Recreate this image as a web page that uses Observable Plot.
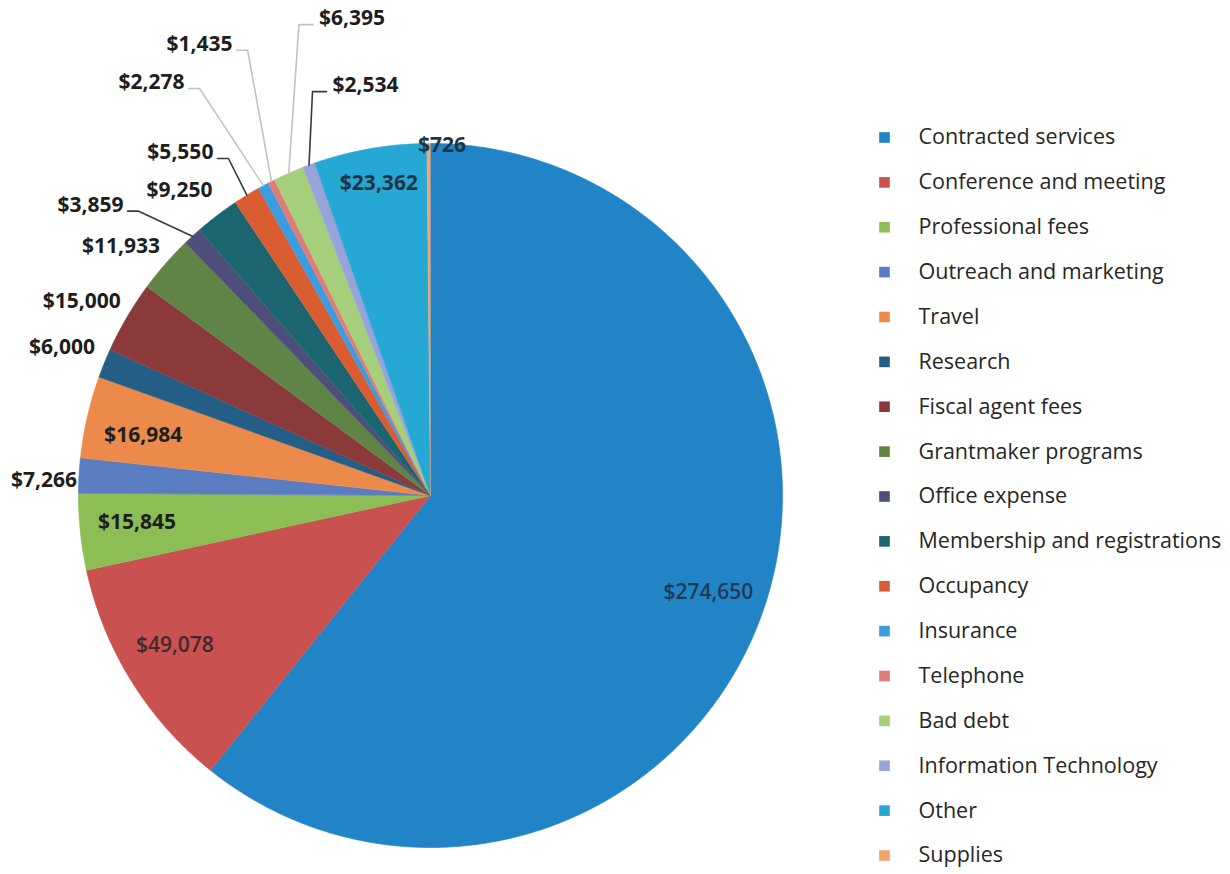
<!DOCTYPE html>
<html>
<head>
<meta charset="utf-8">
<script src="https://cdn.jsdelivr.net/npm/d3@7"></script>
<script src="https://cdn.jsdelivr.net/npm/@observablehq/plot@0.6"></script>
<style>
  html, body { margin: 0; padding: 0; background: #fff; }
  #wrap { position: relative; width: 1230px; height: 874px; overflow: hidden; font-family: "Open Sans", sans-serif; }
  #pie { position: absolute; left: 0; top: 0; }
  #legend { position: absolute; left: 860px; top: 0; }
</style>
</head>
<body>
<div id="wrap"><div id="pie"></div><div id="legend"></div></div>
<script>
// ---- data ----
const categories = [
  "Contracted services", "Conference and meeting", "Professional fees", "Outreach and marketing",
  "Travel", "Research", "Fiscal agent fees", "Grantmaker programs", "Office expense",
  "Membership and registrations", "Occupancy", "Insurance", "Telephone", "Bad debt",
  "Information Technology", "Other", "Supplies"
];
const values = [274650, 49078, 15845, 7266, 16984, 6000, 15000, 11933, 3859, 9250, 5550, 2278, 1435, 6395, 2534, 23362, 726];
const colors = [
  "#2184c6", "#c9514f", "#8dbd55", "#5a7cc0", "#ec8a4c", "#245d85", "#8a3a3b", "#5f8446", "#4d4e7a",
  "#1b6571", "#d95d31", "#3b9de0", "#e27c77", "#a6cf7b", "#98a3db", "#25a8d3", "#f0a46f"
];

// ---- label layout (polar: angle clockwise from top in degrees, radius as fraction of pie radius) ----
const labelAngle  = [109.2, 239.6, 264.8, 272.2, 281.8, 291.9, 299.1, 308.8, 310.5, 320.55, 323.9, 325.96, 332.9, 350.65, 351.0, 350.6, 1.88];
const labelRadius = [0.836, 0.842, 0.837, 1.099, 0.834, 1.128, 1.134, 1.128, 1.27, 1.122, 1.206, 1.416, 1.44, 1.373, 1.179, 0.898, 0.995];
const labelStyle  = ["soft", "soft", "bold", "bold", "bold", "bold", "bold", "bold", "bold", "bold", "bold", "bold", "bold", "bold", "bold", "dark", "dark"];
const leaderSide  = [null, null, null, null, null, null, null, null, "right", null, "right", "right", "right", "left", "left", null, null];
const leaderTone  = [null, null, null, null, null, null, null, null, "dark", null, "dark", "light", "light", "light", "dark", null, null];

// ---- geometry ----
const W = 860, H = 874, cx = 430, cy = 495, R = 352, LABEL_SIZE = 21;
const fmt = d3.format("$,");
const rows = categories.map((c, i) => ({category: c, value: values[i], i}));
const arcs = d3.pie().sort(null).value(d => d.value)(rows);

// slice polygons (unit coordinates, angle clockwise from top)
const slicePts = [];
for (const a of arcs) {
  const key = a.data.category;
  slicePts.push({key, u: 0, v: 0});
  const n = Math.max(2, Math.ceil((a.endAngle - a.startAngle) / (Math.PI / 720)));
  for (let k = 0; k <= n; k++) {
    const t = a.startAngle + (a.endAngle - a.startAngle) * k / n;
    slicePts.push({key, u: Math.sin(t), v: Math.cos(t)});
  }
}

// labels
const labels = arcs.map((a, i) => {
  const t = labelAngle[i] * Math.PI / 180;
  return {
    i, key: a.data.category, text: fmt(a.data.value), style: labelStyle[i],
    u: labelRadius[i] * Math.sin(t), v: labelRadius[i] * Math.cos(t),
    mid: (a.startAngle + a.endAngle) / 2
  };
});

// leader lines: label edge -> short elbow -> slice edge at mid angle
const leaders = [];
for (const L of labels) {
  const side = leaderSide[L.i];
  if (!side) continue;
  const commas = L.text.split(",").length - 1;
  const halfW = ((L.text.length - commas) * 0.572 + 0.29 * commas) * LABEL_SIZE / 2;
  const dir = side === "right" ? 1 : -1;
  const x0 = L.u + dir * (halfW + (side === "right" ? 4 : 6)) / R;
  const x1 = x0 + dir * (side === "right" ? 11 : 14) / R;
  const y = L.v - 6 / R;
  const tone = leaderTone[L.i];
  leaders.push({id: L.key, tone, u: x0, v: y});
  leaders.push({id: L.key, tone, u: x1, v: y});
  leaders.push({id: L.key, tone, u: Math.sin(L.mid), v: Math.cos(L.mid)});
}

const colorScale = {domain: categories, range: colors};
const textOpts = {x: "u", y: "v", text: "text", textAnchor: "middle", lineAnchor: "middle"};

const pie = Plot.plot({
  width: W, height: H,
  margin: 0,
  x: {domain: [-1, 1], range: [cx - R, cx + R], axis: null},
  y: {domain: [-1, 1], range: [cy + R, cy - R], axis: null},
  color: colorScale,
  style: {fontFamily: "'Open Sans', sans-serif", background: "transparent", overflow: "visible"},
  marks: [
    Plot.line(slicePts, {x: "u", y: "v", z: "key", fill: "key", stroke: "key", strokeWidth: 0.7, curve: "linear"}),
    Plot.line(leaders.filter(d => d.tone === "light"), {x: "u", y: "v", z: "id", stroke: "#c3c3c3", strokeWidth: 1.6}),
    Plot.line(leaders.filter(d => d.tone === "dark"), {x: "u", y: "v", z: "id", stroke: "#3a3a3a", strokeWidth: 1.6}),
    Plot.text(labels.filter(d => d.style === "bold"), {...textOpts, fontSize: LABEL_SIZE, fontWeight: "bold", fill: "#1e1e1e"}),
    Plot.text(labels.filter(d => d.style === "dark"), {...textOpts, fontSize: LABEL_SIZE, fontWeight: "bold", fill: "#1f3447"}),
    Plot.text(labels.filter(d => d.style === "soft" && d.i === 0), {...textOpts, fontSize: 21, fontWeight: 600, fill: "#223a52"}),
    Plot.text(labels.filter(d => d.style === "soft" && d.i === 1), {...textOpts, fontSize: 21, fontWeight: 600, fill: "#3e2a2c"})
  ]
});
document.getElementById("pie").appendChild(pie);

const legendRows = categories.map((c, i) => ({category: c, row: i}));
const legend = Plot.plot({
  width: 370, height: H,
  margin: 0,
  x: {domain: [0, 1], range: [24, 58], axis: null},
  y: {domain: [0, categories.length - 1], range: [137, 855], axis: null},
  color: colorScale,
  style: {fontFamily: "'Open Sans', sans-serif", background: "transparent"},
  marks: [
    Plot.dot(legendRows, {x: 0, y: "row", fill: "category", symbol: "square", r: 6}),
    Plot.text(legendRows, {x: 1, y: "row", text: "category", textAnchor: "start", fontSize: 21.5, fill: "#262626", lineAnchor: "middle"})
  ]
});
document.getElementById("legend").appendChild(legend);
</script>
</body>
</html>
